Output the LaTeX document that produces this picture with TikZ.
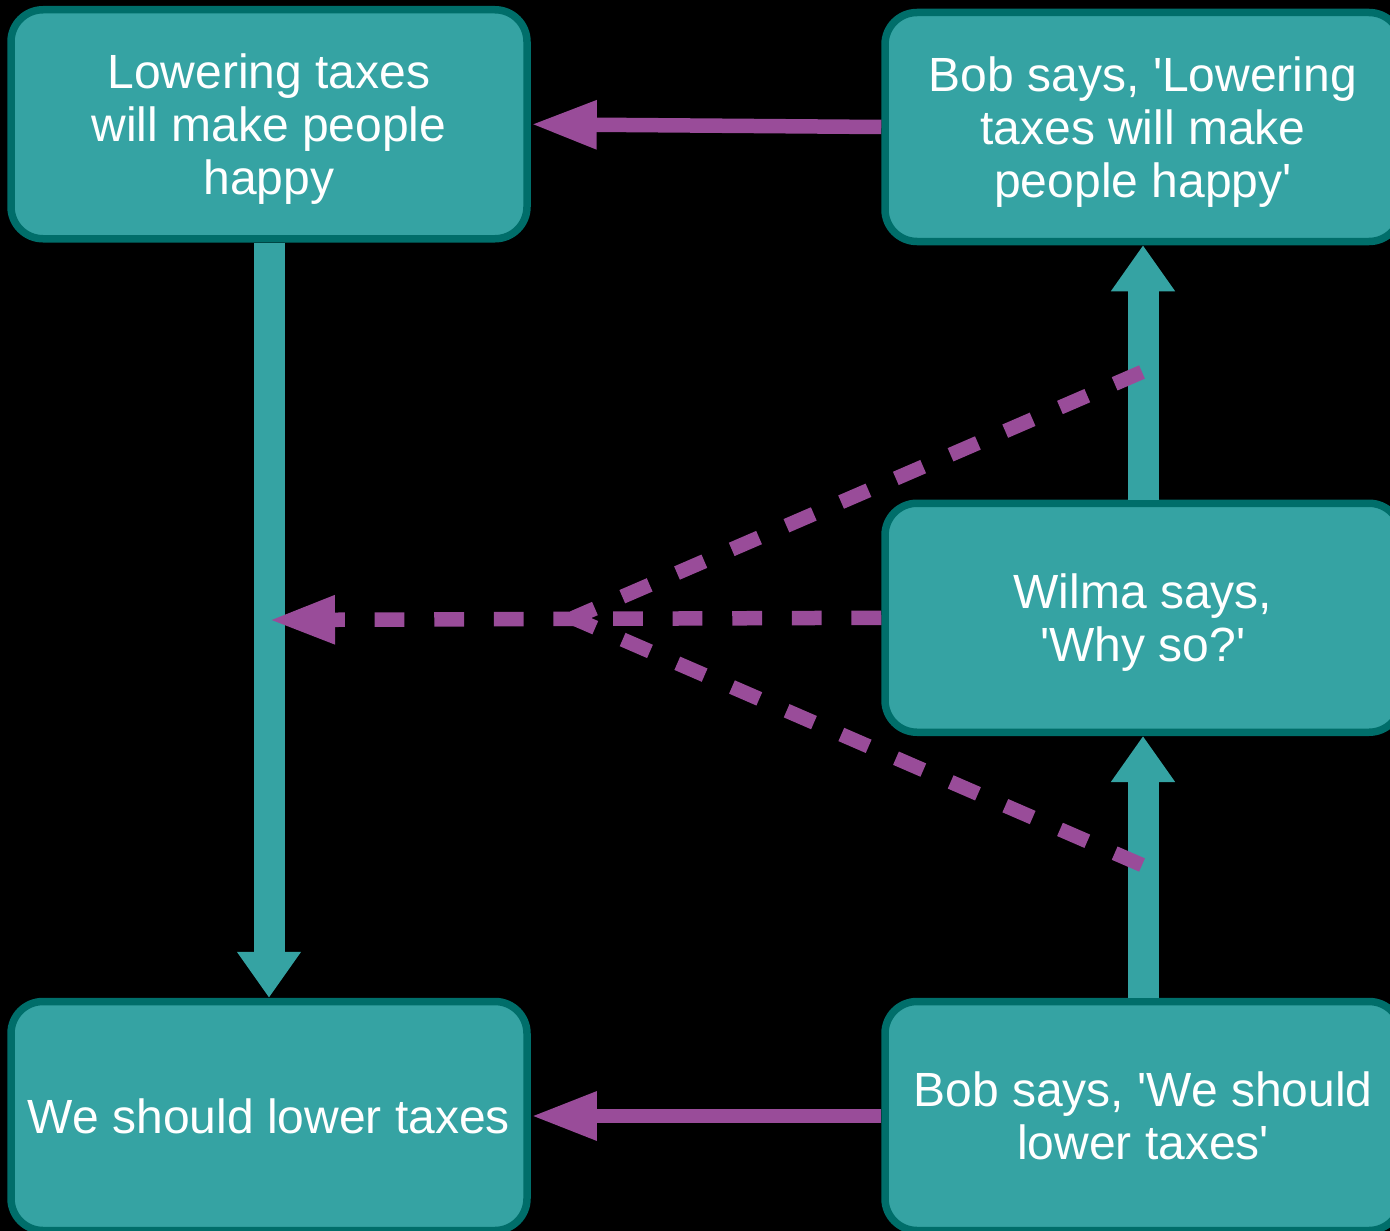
\documentclass[tikz,border=0pt]{standalone}
\usepackage{fontspec}
\setmainfont{Liberation Sans}
\usetikzlibrary{arrows.meta}
\definecolor{boxfill}{RGB}{53,163,163}
\definecolor{boxline}{RGB}{0,110,106}
\definecolor{linkpurple}{RGB}{153,76,153}
\begin{document}
\begin{tikzpicture}[x=1pt,y=-1pt,
  card/.style={draw=boxline, fill=boxfill, line width=7.5pt, rounded corners=32pt,
    minimum width=516pt, minimum height=229pt, inner sep=0pt, text=white,
    text depth=0pt, align=center, font=\fontsize{48}{53}\selectfont},
  flow/.style={draw=boxfill, line width=31pt, -{Triangle[length=46pt,width=61pt]}},
  claim/.style={draw=linkpurple, line width=14.5pt, -{Triangle[length=66pt,width=45pt]}},
  query/.style={draw=linkpurple, line width=14.5pt, dash pattern=on 29.8pt off 29.8pt},
]
% canvas
\fill[black] (0,0) rectangle (1390,1231);
\clip (0,0) rectangle (1390,1231);

% statements
\node[card] (tl) at (269,124.25) {Lowering taxes\\will make people\\happy};
\node[card] (tr) at (1143,127) {Bob says, \textquotesingle Lowering\\taxes will make\\people happy\textquotesingle};
\node[card] (mid) at (1143,617.75) {Wilma says,\\\textquotesingle Why so?\textquotesingle};
\node[card] (bl) at (269,1116) {We should lower taxes};
\node[card] (br) at (1143,1116) {Bob says, \textquotesingle We should\\lower taxes\textquotesingle};

% inference steps
\draw[flow] (tl.south) -- (bl.north);
\draw[flow] (mid.north) -- (tr.south);
\draw[flow] (br.north) -- (mid.south);

% what Bob's claims support
\draw[claim] (tr.west) -- (tl.east);
\draw[claim] (br.west) -- (bl.east);

% Wilma's challenge
\coordinate (hit) at (269,620);
\coordinate (meet) at (573,618);
\coordinate (upper) at (1142,372);
\coordinate (lower) at (1142,865);
\draw[query, -{Triangle[length=66pt,width=45pt]}] (mid.west) -- (hit);
\draw[query] (upper) -- (meet);
\draw[query] (lower) -- (meet);
\end{tikzpicture}
\end{document}
